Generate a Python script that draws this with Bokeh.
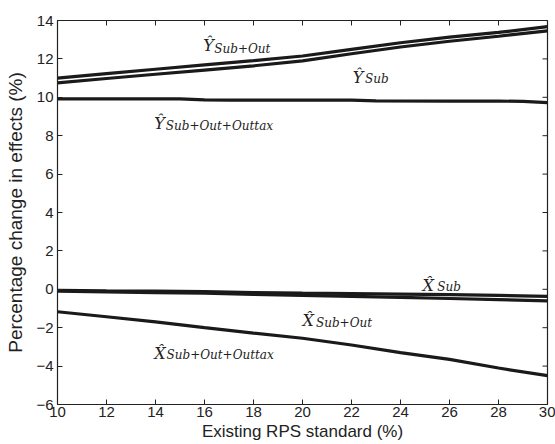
import math
from bokeh.plotting import figure
from bokeh.models import ColumnDataSource, FixedTicker, Range1d
from bokeh.core.properties import value
from bokeh.embed import file_html
from bokeh.resources import INLINE

# ---- data ----
rps = [10, 12, 14, 16, 18, 20, 22, 24, 26, 28, 30]
y_sub_out = [11.0, 11.23, 11.46, 11.69, 11.91, 12.15, 12.5, 12.84, 13.13, 13.38, 13.68]
y_sub = [10.75, 10.98, 11.2, 11.42, 11.64, 11.9, 12.27, 12.62, 12.92, 13.18, 13.46]
rps_outtax = [10, 12, 14, 15, 16, 17, 20, 22, 23, 26, 28, 29, 30]
y_sub_out_outtax = [9.92, 9.92, 9.92, 9.92, 9.87, 9.85, 9.85, 9.85, 9.81, 9.8, 9.8, 9.79, 9.72]
x_sub = [-0.05, -0.08, -0.1, -0.12, -0.17, -0.2, -0.22, -0.25, -0.28, -0.32, -0.37]
x_sub_out = [-0.1, -0.13, -0.17, -0.2, -0.26, -0.32, -0.37, -0.42, -0.48, -0.54, -0.6]
x_sub_out_outtax = [-1.17, -1.43, -1.7, -2.0, -2.28, -2.55, -2.9, -3.3, -3.65, -4.1, -4.5]

x_ticks = [10, 12, 14, 16, 18, 20, 22, 24, 26, 28, 30]
y_ticks = [-6, -4, -2, 0, 2, 4, 6, 8, 10, 12, 14]
y_tick_labels = ["\u22126", "\u22124", "\u22122", "0", "2", "4", "6", "8", "10", "12", "14"]

# labels: main letter (with hat) and subscript
lab_main = ["Y\u0302", "Y\u0302", "Y\u0302", "X\u0302", "X\u0302", "X\u0302"]
lab_sub = ["Sub+Out", "Sub", "Sub+Out+Outtax", "Sub", "Sub+Out", "Sub+Out+Outtax"]
lab_x = [15.95, 22.05, 13.95, 24.9, 20.0, 13.95]
lab_y = [12.7, 11.03, 8.63, 0.2, -1.63, -3.34]
sub_x = [16.4, 22.55, 14.42, 25.5, 20.55, 14.45]
sub_y = [12.54, 10.93, 8.53, 0.1, -1.73, -3.44]

xlabel = "Existing RPS standard (%)"
ylabel = "Percentage change in effects (%)"

INK = "#222222"

p = figure(width=555, height=444, output_backend="svg",
           toolbar_location=None, x_range=Range1d(10, 30), y_range=Range1d(-6, 14),
           min_border_left=57, min_border_right=8, min_border_top=20, min_border_bottom=40)
p.background_fill_color = "white"
p.border_fill_color = "white"
p.outline_line_color = INK
p.outline_line_width = 1.2
p.xgrid.visible = False
p.ygrid.visible = False

for ax in (p.xaxis[0], p.yaxis[0]):
    ax.major_tick_in = 5
    ax.major_tick_out = 0
    ax.minor_tick_in = 0
    ax.minor_tick_out = 0
    ax.axis_line_color = INK
    ax.major_tick_line_color = INK
    ax.major_label_text_font = "Liberation Sans"
    ax.major_label_text_font_size = "15px"
    ax.major_label_text_color = INK
    ax.axis_label_text_font = "Liberation Sans"
    ax.axis_label_text_font_style = "normal"
    ax.axis_label_text_color = INK

p.xaxis[0].axis_label_text_font_size = "17px"
p.yaxis[0].axis_label_text_font_size = "19px"
p.xaxis[0].ticker = FixedTicker(ticks=x_ticks)
p.yaxis[0].ticker = FixedTicker(ticks=y_ticks)
p.yaxis[0].major_label_overrides = {t: l for t, l in zip(y_ticks, y_tick_labels)}
p.xaxis[0].axis_label = xlabel
p.yaxis[0].axis_label = ylabel
p.xaxis[0].major_label_standoff = 2
p.xaxis[0].axis_label_standoff = 2
p.yaxis[0].major_label_standoff = 4
p.yaxis[0].axis_label_standoff = 7

# mirrored inward ticks on top and right edges (clipped to the frame)
p.scatter(x_ticks, [y_ticks[-1]] * len(x_ticks), marker="dash", size=10,
          angle=math.pi / 2, line_color=INK, line_width=1)
p.scatter([x_ticks[-1]] * len(y_ticks), y_ticks, marker="dash", size=10,
          line_color=INK, line_width=1)

LW = 3.2
p.line(rps, y_sub_out, line_color="#1a1a1a", line_width=LW)
p.line(rps, y_sub, line_color="#1a1a1a", line_width=LW)
p.line(rps_outtax, y_sub_out_outtax, line_color="#1a1a1a", line_width=LW)
p.line(rps, x_sub, line_color="#1a1a1a", line_width=LW)
p.line(rps, x_sub_out, line_color="#1a1a1a", line_width=LW)
p.line(rps, x_sub_out_outtax, line_color="#1a1a1a", line_width=LW)

src_main = ColumnDataSource(dict(x=lab_x, y=lab_y, t=lab_main))
src_sub = ColumnDataSource(dict(x=sub_x, y=sub_y, t=lab_sub))
p.text(x="x", y="y", text="t", source=src_main, text_font=value("DejaVu Serif"),
       text_font_style="italic", text_font_size="16px", text_color=INK,
       text_baseline="alphabetic", text_align="left")
p.text(x="x", y="y", text="t", source=src_sub, text_font=value("DejaVu Serif"),
       text_font_style="italic", text_font_size="12px", text_color=INK,
       text_baseline="alphabetic", text_align="left")

open("out.html", "w").write(file_html(p, INLINE))
